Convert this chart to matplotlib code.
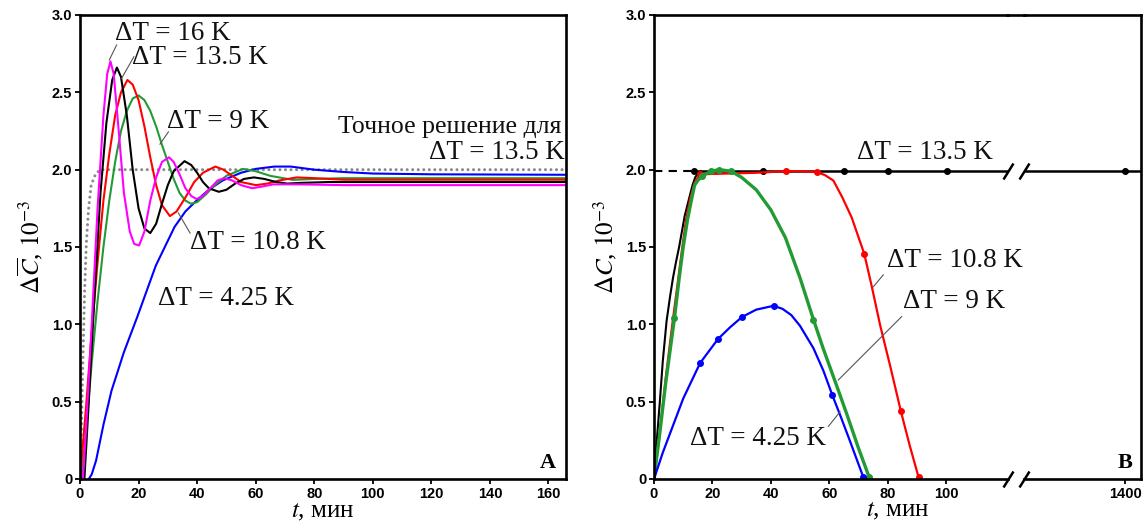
import matplotlib
matplotlib.use('Agg')
import matplotlib.pyplot as plt
from matplotlib.lines import Line2D

plt.rcParams['mathtext.fontset'] = 'stix'
plt.rcParams['font.family'] = 'Liberation Serif'

# ---------------- panel A: average concentration, min ----------------
t_exact = [0, 0.5, 0.9, 1.6, 2.15, 2.9, 3.8, 5.4, 7, 166]
c_exact = [0, 0.3, 0.7, 1.23, 1.52, 1.74, 1.9, 1.975, 2.0, 2.0]

t_16 = [1, 2, 4, 6, 8, 9.3, 10.4, 11.5, 13, 15, 17, 18.5, 20.2, 22, 24, 26, 28, 30.4, 32, 34,
        36, 38, 39.8, 42, 44, 47, 49.3, 52, 55, 58.8, 62, 66, 75, 90, 166]
c_16 = [0, 0.3, 1.0, 1.75, 2.35, 2.62, 2.70, 2.62, 2.3, 1.85, 1.6, 1.52, 1.51, 1.6, 1.8, 1.95,
        2.05, 2.08, 2.05, 1.97, 1.88, 1.83, 1.81, 1.83, 1.87, 1.93, 1.945, 1.93, 1.9, 1.88, 1.89,
        1.905, 1.905, 1.90, 1.90]

t_135 = [1.5, 3, 5, 7, 9, 11, 12.6, 14, 16, 18, 20, 22, 24, 26, 28, 30, 32, 35.7, 38, 40, 42, 44,
         47.4, 50, 53, 56, 59.4, 63, 67, 70.8, 76, 85, 166]
c_135 = [0, 0.5, 1.2, 1.85, 2.3, 2.58, 2.66, 2.6, 2.35, 2.0, 1.75, 1.62, 1.59, 1.65, 1.78, 1.9,
         1.99, 2.055, 2.03, 1.98, 1.92, 1.88, 1.857, 1.87, 1.91, 1.94, 1.95, 1.94, 1.92, 1.91,
         1.915, 1.92, 1.92]

t_108 = [0, 2, 4, 6, 8, 10, 12, 14, 16.2, 18, 20, 22, 24, 26, 28, 30.7, 33, 36, 39, 42, 46.2, 49,
         52, 55, 60.1, 64, 68, 74, 80, 90, 166]
c_108 = [0, 0.45, 0.95, 1.4, 1.8, 2.1, 2.35, 2.5, 2.58, 2.55, 2.45, 2.28, 2.08, 1.9, 1.77, 1.70,
         1.73, 1.82, 1.92, 1.98, 2.02, 2.0, 1.96, 1.92, 1.90, 1.91, 1.93, 1.95, 1.945, 1.935, 1.935]

t_9 = [0.5, 2, 4, 6, 8, 10, 12, 14, 16, 18, 20, 22, 24, 26, 28, 30, 32, 34, 36, 37.9, 40, 43, 46,
       50, 55.7, 60, 65, 72.7, 80, 90, 166]
c_9 = [0, 0.3, 0.75, 1.15, 1.5, 1.8, 2.05, 2.25, 2.38, 2.46, 2.48, 2.45, 2.38, 2.28, 2.16, 2.05,
       1.94, 1.85, 1.8, 1.78, 1.79, 1.84, 1.9, 1.96, 2.005, 1.99, 1.96, 1.934, 1.94, 1.945, 1.945]

t_425 = [3, 4, 5.5, 8, 10.75, 15, 19.6, 25.9, 32.3, 36, 39.8, 44, 48.7, 55, 60, 66.4, 72, 80, 90,
         100, 120, 166]
c_425 = [0, 0.03, 0.12, 0.35, 0.57, 0.82, 1.05, 1.38, 1.63, 1.73, 1.80, 1.87, 1.93, 1.98, 2.005,
         2.02, 2.02, 2.0, 1.985, 1.975, 1.97, 1.967]

# ---------------- panel B: concentration, min ----------------
tb_rise = [0, 1, 2, 3, 4.3, 5.5, 6.5, 7.5, 8.6, 10.5, 12.1, 13.2, 14.1, 15, 16]
cb_rise = [0, 0.26, 0.5, 0.76, 1.02, 1.18, 1.3, 1.4, 1.5, 1.7, 1.82, 1.9, 1.95, 1.975, 1.99]
tb_level = [13.6, 37.2, 65.2, 80.2, 100.2, 1400, 1440]
cb_level = [1.99, 1.99, 1.99, 1.99, 1.99, 1.99, 1.99]
tb_dash = [0, 13.6]
cb_dash = [1.99, 1.99]

tr = [0, 2, 4, 6.4, 8, 9.7, 11, 12.5, 14, 15.8, 25, 35, 45.2, 50, 55.7, 58.5, 61.4, 64.5, 67.7,
      72.0, 74.5, 77.4, 81, 84.5, 87.5, 90.6]
cr = [0, 0.3, 0.65, 1.02, 1.25, 1.5, 1.68, 1.82, 1.92, 1.97, 1.975, 1.98, 1.99, 1.99, 1.985,
      1.965, 1.93, 1.82, 1.69, 1.455, 1.25, 0.996, 0.72, 0.44, 0.22, 0.01]
tr_dots = [9, 12, 14, 19, 23, 25]

tg = [0, 2, 4, 7.0, 8.5, 10.0, 11.5, 13.0, 13.9, 15, 16.6, 19.5, 22.4, 26.4, 30, 35, 40, 45, 50,
      54.6, 58, 62.6, 66, 70, 73.7]
cg = [0, 0.3, 0.62, 1.04, 1.28, 1.5, 1.68, 1.82, 1.9, 1.93, 1.96, 1.99, 2.0, 1.99, 1.95, 1.87,
      1.74, 1.56, 1.3, 1.03, 0.84, 0.6, 0.42, 0.2, 0.01]
tg_dots = [3, 10, 11, 12, 13, 19, 24]

tbl = [0, 3, 6.6, 10, 15.8, 21.9, 26, 30.1, 35, 41, 44, 47, 50, 54.6, 58, 61.1, 64, 67, 71.7]
cbl = [0, 0.17, 0.35, 0.52, 0.75, 0.905, 0.98, 1.047, 1.095, 1.12, 1.1, 1.06, 0.99, 0.845, 0.7,
       0.54, 0.4, 0.25, 0.01]
tbl_dots = [4, 5, 7, 9, 15, 18]

yticks = [0, 0.5, 1.0, 1.5, 2.0, 2.5, 3.0]
ylabels = ['0', '0.5', '1.0', '1.5', '2.0', '2.5', '3.0']

MAG, RED, GRN, BLU = '#ff00ff', '#ff0000', '#239b35', '#0000ff'
tickfont = dict(fontfamily='Liberation Sans', fontweight='bold', fontsize=10.5)
annfont = dict(fontsize=19.5, color='#111111')
rufont = dict(fontsize=18.5, color='#111111')
lead = dict(color='#555555', lw=0.8)


def style(ax):
    for s in ax.spines.values():
        s.set_linewidth(1.9)
    ax.tick_params(direction='out', length=3.5, width=1.3, pad=2)


fig = plt.figure(figsize=(11.43, 5.31), dpi=100)

# ---------- A ----------
axA = fig.add_axes([80 / 1143, 52 / 531, 486 / 1143, 464 / 531])
style(axA)
axA.plot(t_exact, c_exact, color='#8a8a8a', lw=2.2, linestyle=(0, (0.01, 1.8)),
         dash_capstyle='round', zorder=1)
axA.plot(t_425, c_425, color=BLU, lw=1.5)
axA.plot(t_9, c_9, color=GRN, lw=1.5)
axA.plot(t_108, c_108, color=RED, lw=1.5)
axA.plot(t_135, c_135, color='k', lw=1.5)
axA.plot(t_16, c_16, color=MAG, lw=1.5)
axA.set_xlim(0, 166)
axA.set_ylim(0, 3)
axA.set_xticks(range(0, 161, 20))
axA.set_xticklabels([str(v) for v in range(0, 161, 20)], **tickfont)
axA.set_yticks(yticks)
axA.set_yticklabels(ylabels, **tickfont)
axA.set_xlabel(r'$t$, мин', fontsize=18, labelpad=0)
axA.set_ylabel(r'$\Delta\overline{C}$, $10^{-3}$', fontsize=18, labelpad=5)

axA.text(12.0, 2.88, 'ΔT = 16 K', va='center', **annfont)
axA.text(17.7, 2.725, 'ΔT = 13.5 K', va='center', **annfont)
axA.text(29.8, 2.31, 'ΔT = 9 K', va='center', **annfont)
axA.text(37.6, 1.53, 'ΔT = 10.8 K', va='center', **annfont)
axA.text(26.5, 1.17, 'ΔT = 4.25 K', va='center', **annfont)
axA.text(164.5, 2.275, 'Точное решение для', va='center', ha='right', **rufont)
axA.text(165.5, 2.11, 'ΔT = 13.5 K', va='center', ha='right', **annfont)
axA.plot([12.5, 10.0], [2.806, 2.709], **lead)
axA.plot([18.4, 14.2], [2.73, 2.59], **lead)
axA.plot([30.2, 27.3], [2.244, 2.165], **lead)
axA.plot([37.6, 33.6], [1.59, 1.72], **lead)
axA.text(0.979, 0.034, 'A', transform=axA.transAxes, ha='right', va='center',
         fontsize=16, fontweight='bold')

# ---------- B (broken x axis) ----------
axB1 = fig.add_axes([654 / 1143, 52 / 531, 354 / 1143, 464 / 531])
axB2 = fig.add_axes([1024 / 1143, 52 / 531, 117 / 1143, 464 / 531])
for ax in (axB1, axB2):
    style(ax)
    ax.set_ylim(0, 3)
    ax.plot(tb_dash, cb_dash, color='k', lw=1.5, linestyle=(0, (4, 3)))
    ax.plot(tb_level, cb_level, color='k', lw=1.8, marker='o', ms=4,
            markevery=[0, 1, 2, 3, 4, 5])
    ax.plot(tb_rise, cb_rise, color='k', lw=1.5)
    ax.plot(tr, cr, color=RED, lw=1.6, marker='o', ms=4, markevery=tr_dots)
    ax.plot(tg, cg, color=GRN, lw=2.4, marker='o', ms=4, markevery=tg_dots)
    ax.plot(tbl, cbl, color=BLU, lw=1.6, marker='o', ms=4, markevery=tbl_dots)

axB1.set_xlim(0, 121.2)
axB2.set_xlim(1365.4, 1405.4)
axB1.spines['right'].set_visible(False)
axB2.spines['left'].set_visible(False)
axB2.tick_params(left=False, labelleft=False)
axB1.set_xticks(range(0, 101, 20))
axB1.set_xticklabels([str(v) for v in range(0, 101, 20)], **tickfont)
axB2.set_xticks([1400])
axB2.set_xticklabels(['1400'], **tickfont)
axB1.set_yticks(yticks)
axB1.set_yticklabels(ylabels, **tickfont)
axB1.set_xlabel(r'$t$, мин', fontsize=18)
axB1.xaxis.set_label_coords(0.689, -0.045)
axB1.xaxis.label.set_va('top')
axB1.set_ylabel(r'$\Delta C$, $10^{-3}$', fontsize=18, labelpad=5)

# top spine across the gap
top = (52 + 464) / 531
fig.add_artist(Line2D([1007 / 1143, 1025 / 1143], [top, top], color='k', lw=1.9,
                      transform=fig.transFigure))

# break marks
d = 1.6
brk = dict(marker=[(-1, -d), (1, d)], markersize=11.5, linestyle='none', color='k',
           mec='k', mew=1.8, clip_on=False)
axB1.plot([1], [0], transform=axB1.transAxes, **brk)
axB2.plot([0], [0], transform=axB2.transAxes, **brk)
axB1.plot([1], [1.99], transform=axB1.get_yaxis_transform(), **brk)
axB2.plot([0], [1.99], transform=axB2.get_yaxis_transform(), **brk)

axB1.text(69.4, 2.11, 'ΔT = 13.5 K', va='center', **annfont)
axB1.text(79.7, 1.41, 'ΔT = 10.8 K', va='center', **annfont)
axB1.text(85.4, 1.145, 'ΔT = 9 K', va='center', **annfont)
axB1.text(12.3, 0.26, 'ΔT = 4.25 K', va='center', **annfont)
axB1.plot([78.5, 75.1], [1.32, 1.243], **lead)
axB1.plot([84.8, 63.1], [1.05, 0.64], **lead)
axB1.plot([59.7, 63.7], [0.34, 0.435], **lead)
axB2.text(0.93, 0.034, 'B', transform=axB2.transAxes, ha='right', va='center',
          fontsize=16, fontweight='bold')

fig.savefig('out.png', dpi=100)
